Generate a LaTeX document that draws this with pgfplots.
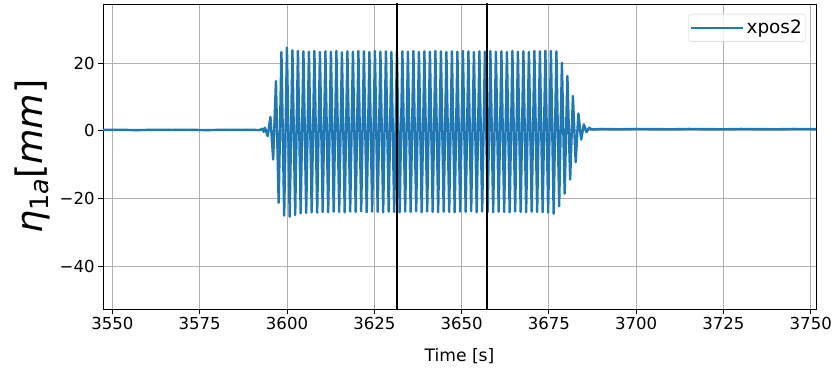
\documentclass[border=0pt]{standalone}
\usepackage{pgfplots}
\pgfplotsset{compat=1.18}
\usepackage{fontspec}
\setmainfont{DejaVu Sans}
\definecolor{mplblue}{HTML}{1F77B4}
\definecolor{mplgrid}{HTML}{B0B0B0}
\pgfplotstableread{
x y
3547.00 0.25
3552.00 0.30
3557.00 0.20
3562.00 0.30
3567.00 0.25
3572.00 0.30
3577.00 0.20
3582.00 0.30
3587.00 0.25
3590.00 0.30
3592.10 0.20
3592.90 0.60
3593.30 -0.30
3593.68 0.90
3594.46 -1.60
3595.25 4.10
3596.04 -8.50
3596.83 14.70
3597.61 -21.30
3598.40 23.30
3599.19 -25.10
3599.98 24.60
3600.76 -25.40
3601.55 23.80
3602.34 -24.90
3603.13 23.60
3603.91 -24.40
3604.70 23.50
3605.49 -24.30
3606.28 23.40
3607.07 -24.10
3607.85 23.60
3608.64 -24.20
3609.43 23.30
3610.22 -24.00
3611.00 23.50
3611.79 -24.10
3612.58 23.40
3613.37 -23.90
3614.15 23.60
3614.94 -24.00
3615.73 23.20
3616.52 -24.10
3617.30 23.50
3618.09 -23.90
3618.88 23.40
3619.67 -24.00
3620.45 23.60
3621.24 -23.80
3622.03 23.50
3622.82 -24.10
3623.60 23.30
3624.39 -23.90
3625.18 23.60
3625.97 -24.00
3626.75 23.40
3627.54 -24.10
3628.33 23.50
3629.12 -23.90
3629.90 23.30
3630.69 -24.00
3631.48 23.60
3632.27 -24.10
3633.05 23.50
3633.84 -23.90
3634.63 23.40
3635.42 -24.00
3636.20 23.60
3636.99 -23.80
3637.78 23.30
3638.57 -24.10
3639.35 23.50
3640.14 -23.90
3640.93 23.40
3641.72 -24.00
3642.50 23.60
3643.29 -24.10
3644.08 23.50
3644.87 -23.90
3645.65 23.30
3646.44 -24.00
3647.23 23.50
3648.02 -24.10
3648.80 23.40
3649.59 -23.90
3650.38 23.60
3651.17 -24.00
3651.95 23.50
3652.74 -23.80
3653.53 23.30
3654.32 -24.10
3655.10 23.50
3655.89 -23.90
3656.68 23.40
3657.47 -24.00
3658.25 23.60
3659.04 -24.10
3659.83 23.40
3660.62 -23.90
3661.40 23.50
3662.19 -24.00
3662.98 23.30
3663.77 -24.10
3664.55 23.60
3665.34 -23.90
3666.13 23.40
3666.92 -24.00
3667.70 23.50
3668.49 -24.10
3669.28 23.30
3670.07 -23.90
3670.85 23.60
3671.64 -24.00
3672.43 23.50
3673.22 -24.10
3674.00 23.70
3674.79 -24.20
3675.58 23.60
3676.37 -24.50
3677.15 23.50
3677.94 -22.30
3678.73 20.10
3679.52 -18.60
3680.30 16.20
3681.09 -14.40
3681.88 10.30
3682.67 -9.30
3683.45 5.10
3684.24 -2.60
3685.03 1.90
3685.80 -0.40
3686.50 0.90
3687.30 0.40
3690.00 0.55
3695.00 0.45
3700.00 0.55
3705.00 0.50
3710.00 0.45
3715.00 0.55
3720.00 0.50
3725.00 0.45
3730.00 0.55
3735.00 0.50
3740.00 0.45
3745.00 0.55
3752.00 0.50
}\datatable
\begin{document}
\begin{tikzpicture}
\path[use as bounding box] (0,0) rectangle (838bp,372bp);
\begin{axis}[
  at={(103bp,63bp)}, anchor=south west,
  scale only axis, width=713bp, height=305bp,
  xmin=3547.3, xmax=3751.5, ymin=-52.7, ymax=37.5,
  xtick={3550,3575,...,3750},
  ytick={-40,-20,0,20}, yticklabels={−40,−20,0,20},
  /pgf/number format/1000 sep={},
  /pgf/number format/assume math mode=true,
  tick label style={font=\fontsize{16.6}{19}\selectfont},
  xtick pos=bottom, ytick pos=left,
  grid=major, grid style={color=mplgrid, line width=0.8pt},
  axis line style={line width=0.8pt},
  tick align=outside, major tick length=4.9bp,
  tick style={black, line width=0.8pt},
  xlabel={Time [s]},
  xlabel style={font=\fontsize{17.2}{20}\selectfont, at={(rel axis cs:0.5,-0.156)}, anchor=center},
  ylabel={\fontsize{36.5}{42}\selectfont\itshape η\raisebox{-6.5bp}{\fontsize{25.5}{29}\selectfont\upshape 1\itshape a}\upshape[\itshape mm\upshape]},
  ylabel style={at={(rel axis cs:-0.0996,0.5)}, anchor=center},
  legend style={at={(rel axis cs:1,1)}, xshift=-10bp, yshift=-10bp, anchor=north east,
    draw=black!20, rounded corners=3bp, fill=white, fill opacity=0.8, text opacity=1,
    font=\fontsize{18.5}{21}\selectfont, inner xsep=2bp, inner ysep=4bp},
  legend image code/.code={\path (-4bp,0bp) -- (48bp,0bp);\draw[#1] (0bp,0bp) -- (39bp,0bp);},
  legend cell align=left,
]
\addplot[mplblue, line width=2.4bp, line join=round] table[x=x,y=y] {\datatable};
\addlegendentry{xpos2}
\addplot[black, line width=2bp, forget plot] coordinates {(3631.5,-60) (3631.5,50)};
\addplot[black, line width=2bp, forget plot] coordinates {(3657.3,-60) (3657.3,50)};
\end{axis}
\end{tikzpicture}
\end{document}
